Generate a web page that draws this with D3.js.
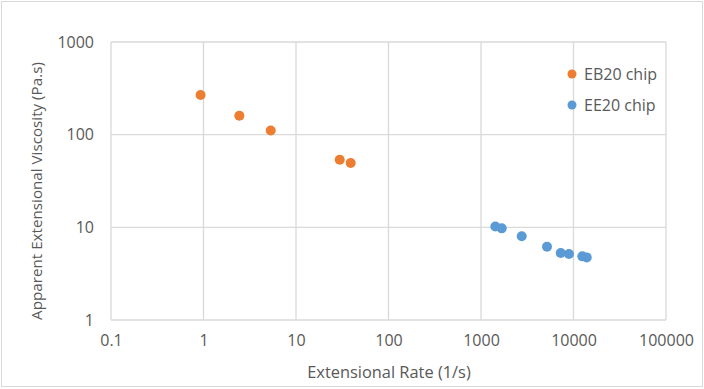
<!DOCTYPE html>
<html>
<head>
<meta charset="utf-8">
<script src="https://d3js.org/d3.v7.min.js"></script>
<style>
  body { margin: 0; background: #fff; }
  svg text { font-family: "Open Sans", sans-serif; fill: #595959; }
</style>
</head>
<body>
<div id="chart"></div>
<script>
// data
var ebRate = [0.93, 2.44, 5.33, 29.7, 39];
var ebVisc = [268, 160, 111, 53.7, 49.5];
var eeRate = [1430, 1675, 2755, 5170, 7280, 8940, 12450, 13900];
var eeVisc = [10.2, 9.75, 8.0, 6.18, 5.28, 5.15, 4.86, 4.74];
var xTicks = [0.1, 1, 10, 100, 1000, 10000, 100000];
var yTicks = [1, 10, 100, 1000];
var seriesNames = ["EB20 chip", "EE20 chip"];
var seriesColors = ["#ED7D31", "#5B9BD5"];

var W = 704, H = 389;
var margin = { top: 42, right: 38, bottom: 69, left: 111 };
var width = W - margin.left - margin.right;
var height = H - margin.top - margin.bottom;

var svg = d3.select("#chart").append("svg")
  .attr("width", W)
  .attr("height", H);

// chart border
svg.append("rect")
  .attr("x", 1.5).attr("y", 1.5)
  .attr("width", W - 3).attr("height", H - 4)
  .style("fill", "#fff")
  .style("stroke", "#d9d9d9");

var g = svg.append("g")
  .attr("transform", "translate(" + margin.left + "," + margin.top + ")");

var x = d3.scaleLog().domain([0.1, 100000]).range([0, width]);
var y = d3.scaleLog().domain([1, 1000]).range([height, 0]);

// gridlines
g.selectAll(".vgrid").data(xTicks).enter().append("line")
  .attr("x1", d => x(d)).attr("x2", d => x(d))
  .attr("y1", 0).attr("y2", height)
  .style("stroke", "#d9d9d9").style("stroke-width", 1.3);
g.selectAll(".hgrid").data(yTicks).enter().append("line")
  .attr("x1", 0).attr("x2", width)
  .attr("y1", d => y(d)).attr("y2", d => y(d))
  .style("stroke", "#d9d9d9").style("stroke-width", 1.3);

// axes (labels only, lines are the grid)
var xAxis = g.append("g")
  .attr("transform", "translate(0," + height + ")")
  .call(d3.axisBottom(x).tickValues(xTicks).tickFormat(d => String(d)).tickSize(0).tickPadding(15));
var yAxis = g.append("g")
  .call(d3.axisLeft(y).tickValues(yTicks).tickFormat(d => String(d)).tickSize(0).tickPadding(17));
[xAxis, yAxis].forEach(a => {
  a.select(".domain").remove();
  a.selectAll("text").style("font-size", "16px").style("font-family", "\"Open Sans\", sans-serif").attr("fill", "#595959");
});

// points
function drawSeries(rates, visc, color) {
  g.selectAll(null).data(rates).enter().append("circle")
    .attr("cx", d => x(d))
    .attr("cy", (d, i) => y(visc[i]))
    .attr("r", 5)
    .style("fill", color);
}
drawSeries(ebRate, ebVisc, seriesColors[0]);
drawSeries(eeRate, eeVisc, seriesColors[1]);

// legend
var legend = svg.append("g").attr("transform", "translate(572,74)");
seriesNames.forEach((name, i) => {
  legend.append("circle")
    .attr("cx", 0).attr("cy", i * 31)
    .attr("r", 4.5)
    .style("fill", seriesColors[i]);
  legend.append("text")
    .attr("x", 12).attr("y", i * 31)
    .attr("dy", "0.35em")
    .style("font-size", "16px")
    .text(name);
});

// axis titles
svg.append("text")
  .attr("x", 389)
  .attr("y", 372)
  .attr("dy", "0.35em")
  .attr("text-anchor", "middle")
  .style("font-size", "16.4px")
  .text("Extensional Rate (1/s)");
svg.append("text")
  .attr("transform", "translate(37,191) rotate(-90)")
  .attr("dy", "0.35em")
  .attr("text-anchor", "middle")
  .style("font-size", "15.2px")
  .text("Apparent Extensional Viscosity (Pa.s)");
</script>
</body>
</html>
